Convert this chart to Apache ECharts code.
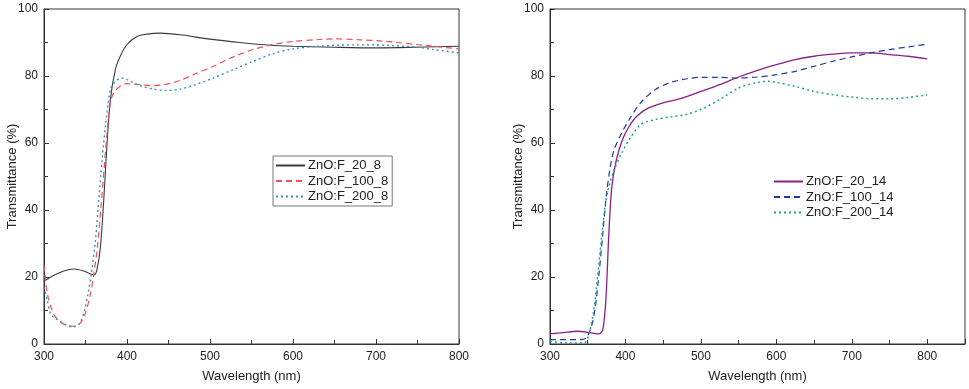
<!DOCTYPE html>
<html>
<head>
<meta charset="utf-8">
<script src="https://cdn.jsdelivr.net/npm/echarts@6/dist/echarts.min.js"></script>
<style>html,body{margin:0;padding:0;background:#fff}#main{width:969px;height:389px}</style>
</head>
<body>
<div id="main"></div>
<script>
// left panel: [wavelength nm, transmittance %]
var f20_8 = [[300,18.7],[312,20.5],[324,21.8],[336,22.4],[348,21.8],[356,20.9],[361,20.7],[364,22.5],[368,29],[372,43],[376,60],[380,73],[386,82],[392,86],[400,89.4],[412,91.8],[424,92.5],[440,92.8],[464,92.3],[500,91],[536,90],[572,89.2],[600,88.9],[649,88.6],[700,88.4],[749,88.6],[800,88.9]];
var f100_8 = [[300,23.5],[304,15],[312,8.8],[320,6.5],[328,5.5],[336,5.3],[344,6.3],[350,9.3],[356,15],[360,21],[364,28],[368,39],[372,51],[376,63],[380,72],[384,75],[392,77],[400,77.7],[416,77.4],[432,77.1],[448,77.6],[464,78.7],[480,80.4],[504,82.9],[528,85.7],[552,87.9],[576,89.4],[600,90.3],[632,90.9],[649,91.1],[681,90.8],[709,90.4],[749,89.4],[800,88.1]];
var f200_8 = [[300,17],[304,13],[308,9],[316,7.3],[328,5.5],[334,5.1],[342,5.8],[348,9.3],[353,15],[357,21],[362,31],[366,43],[370,55],[374,65],[380,76],[386,78.4],[394,79.4],[400,78.9],[416,77.1],[432,76.1],[448,75.7],[464,76.1],[480,77.2],[504,79.4],[528,81.9],[552,84.4],[576,86.7],[600,88.1],[632,88.9],[673,89.3],[709,89.2],[749,88.6],[769,87.9],[800,86.9]];

// right panel
var f20_14 = [[300,3.0],[318,3.4],[336,3.8],[355,3.3],[365,3.0],[370,4.3],[374,13],[378,33],[382,47],[388,55],[396,61],[405,65],[415,68],[430,70.4],[450,72],[475,73.4],[500,75.4],[525,77.4],[550,79.7],[575,81.7],[600,83.4],[625,84.9],[650,85.9],[675,86.5],[700,86.9],[725,86.9],[750,86.4],[775,85.9],[800,85.1]];
var f100_14 = [[300,1.3],[340,1.3],[348,1.8],[355,5.3],[360,11],[365,21],[370,33],[375,45],[380,53],[385,58],[395,63],[405,67],[420,72],[440,76],[460,78.1],[480,79.1],[500,79.6],[525,79.6],[550,79.4],[575,79.7],[600,80.4],[625,81.4],[650,82.9],[675,84.4],[700,85.7],[725,86.9],[750,87.9],[775,88.7],[800,89.5]];
var f200_14 = [[300,0.8],[320,0.3],[345,0.3],[352,3.3],[358,10],[363,20],[368,31],[373,41],[378,47],[385,52],[395,57],[405,61],[420,65.5],[440,67],[460,67.8],[480,68.5],[500,70],[525,73],[550,76.4],[575,78.1],[590,78.4],[600,78.1],[625,76.9],[650,75.4],[675,74.4],[700,73.7],[725,73.2],[750,73.2],[775,73.6],[800,74.4]];

var leftNames = ['ZnO:F_20_8', 'ZnO:F_100_8', 'ZnO:F_200_8'];
var rightNames = ['ZnO:F_20_14', 'ZnO:F_100_14', 'ZnO:F_200_14'];

var font = 'Liberation Sans, Arial, sans-serif';

function xAx(idx, max) {
    return {
        type: 'value', gridIndex: idx, min: 300, max: max, interval: 100,
        name: 'Wavelength (nm)', nameLocation: 'middle', nameGap: 26,
        nameTextStyle: {fontFamily: font, fontSize: 13, color: '#222'},
        axisLine: {lineStyle: {color: '#333', width: 1}},
        axisTick: {inside: true, length: 5, lineStyle: {color: '#333'}},
        minorTick: {show: true, splitNumber: 2, length: 4, lineStyle: {color: '#333'}},
        axisLabel: {fontFamily: font, fontSize: 12, color: '#222', margin: 7, showMaxLabel: max === 800},
        splitLine: {show: false}
    };
}
function yAx(idx) {
    return {
        type: 'value', gridIndex: idx, min: 0, max: 100, interval: 20,
        name: 'Transmittance (%)', nameLocation: 'middle', nameGap: 25, nameMoveOverlap: false,
        nameTextStyle: {fontFamily: font, fontSize: 13, color: '#222'},
        axisLine: {show: true, lineStyle: {color: '#333', width: 1}},
        axisTick: {show: true, inside: true, length: 5, lineStyle: {color: '#333'}},
        minorTick: {show: true, splitNumber: 2, length: 4, lineStyle: {color: '#333'}},
        axisLabel: {fontFamily: font, fontSize: 12, color: '#222', margin: 6},
        splitLine: {show: false}
    };
}
function ser(name, data, idx, color, type, width) {
    return {
        name: name, type: 'line', xAxisIndex: idx, yAxisIndex: idx,
        data: data, smooth: 0.3, symbol: 'none',
        lineStyle: {color: color, width: width || 1.2, type: type},
        itemStyle: {color: color}
    };
}

var myChart = echarts.init(document.getElementById('main'), null, {renderer: 'canvas'});
var option = {
    backgroundColor: '#fff',
    animation: false,
    grid: [
        {left: 44, top: 9, width: 415, height: 335, show: true, borderColor: '#333', borderWidth: 1},
        {left: 550, top: 9, width: 415, height: 335, show: true, borderColor: '#333', borderWidth: 1}
    ],
    xAxis: [xAx(0, 800), xAx(1, 850)],
    yAxis: [yAx(0), yAx(1)],
    legend: [
        {
            data: leftNames, orient: 'vertical', left: 273, top: 156,
            itemWidth: 29, itemHeight: 12, itemGap: 2.5, padding: [3, 4, 3, 2],
            borderColor: '#777', borderWidth: 1,
            itemStyle: {opacity: 0},
            textStyle: {fontFamily: font, fontSize: 13, color: '#222', padding: [0, 0, 0, -2]}
        },
        {
            data: rightNames, orient: 'vertical', left: 768, top: 170,
            itemWidth: 29, itemHeight: 12, itemGap: 2.5,
            itemStyle: {opacity: 0},
            textStyle: {fontFamily: font, fontSize: 13, color: '#222', padding: [0, 0, 0, -2]}
        }
    ],
    series: [
        ser(leftNames[0], f20_8, 0, '#3a3a3a', 'solid', 1.1),
        ser(leftNames[1], f100_8, 0, '#f0505a', [6, 4]),
        ser(leftNames[2], f200_8, 0, '#3b8fc2', [2, 3], 1.4),
        ser(rightNames[0], f20_14, 1, '#8a1f8a', 'solid', 1.3),
        ser(rightNames[1], f100_14, 1, '#1e3a9e', [6, 4]),
        ser(rightNames[2], f200_14, 1, '#23a08e', [2, 3], 1.5)
    ]
};
option && myChart.setOption(option);
window.addEventListener('resize', myChart.resize);
</script>
</body>
</html>
